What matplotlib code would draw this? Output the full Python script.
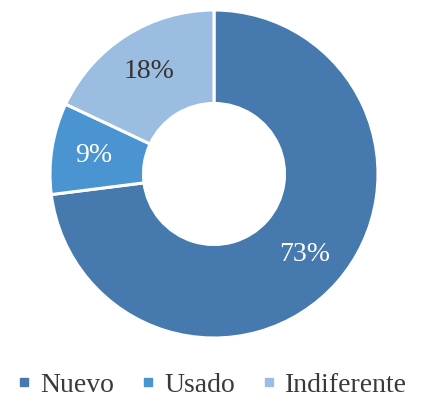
import matplotlib.pyplot as plt
from matplotlib.lines import Line2D

labels = ['Nuevo', 'Usado', 'Indiferente']
values = [73, 9, 18]
colors = ['#4679ae', '#4a94d2', '#9cbde2']
text_colors = ['white', 'white', '#333333']

plt.rcParams['font.family'] = ['Liberation Serif', 'DejaVu Serif']

fig = plt.figure(figsize=(4.23, 4.05), dpi=100)
cx, cy, r = 214, 174, 164
ax = fig.add_axes([(cx - r) / 423, (405 - cy - r) / 405, 2 * r / 423, 2 * r / 405])

wedges, texts, autotexts = ax.pie(values, colors=colors, startangle=90, counterclock=False,
                                  radius=1, autopct='%d%%', pctdistance=0.74,
                                  wedgeprops=dict(width=0.57, edgecolor='white', linewidth=2.2),
                                  textprops=dict(fontsize=20))
for t, c in zip(autotexts, text_colors):
    t.set_color(c)

ax.set_xlim(-1, 1)
ax.set_ylim(-1, 1)
ax.axis('off')

handles = [Line2D([], [], marker='s', linestyle='', color=c, markersize=5.5) for c in colors]
fig.legend(handles, labels, loc='center', bbox_to_anchor=(0.5, 1 - 385 / 405), ncol=3,
           frameon=False, fontsize=20, handlelength=0.6, handletextpad=0.3, columnspacing=0.9,
           labelcolor='#3a3a3a')

fig.savefig('out.png', dpi=100)
